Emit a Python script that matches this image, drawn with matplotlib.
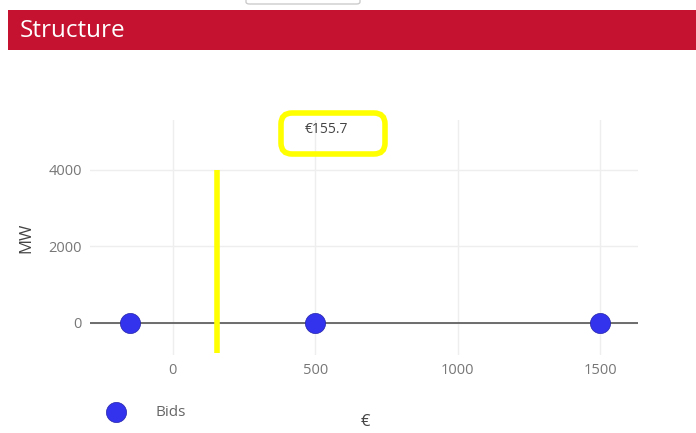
import matplotlib.pyplot as plt
from matplotlib.patches import Rectangle, FancyBboxPatch

plt.rcParams['font.family'] = ['Open Sans', 'DejaVu Sans']

# data
bid_prices = [-150, 500, 1500]
bid_mw = [0, 0, 0]
clearing_price = 155.7
line_range = [-800, 4000]
xticks = [0, 500, 1000, 1500]
yticks = [0, 2000, 4000]

fig = plt.figure(figsize=(6.96, 4.33), dpi=100)
fig.patch.set_facecolor('white')

# header banner
fig.patches.append(Rectangle((8/696, 1 - 50/433), 1, 40/433, transform=fig.transFigure,
                             facecolor='#C41230', edgecolor='none'))
fig.text(20/696, 1 - 31/433, "Structure", color='white', fontsize=17.5, va='center', ha='left')
# little box at very top
fig.patches.append(FancyBboxPatch((246/696, 1 - 4/433), 114/696, 10/433, transform=fig.transFigure,
                                  boxstyle="round,pad=0,rounding_size=0.005",
                                  facecolor='white', edgecolor='#cccccc', lw=1))

ax = fig.add_axes([90/696, 78/433, 548/696, 235/433])
ax.set_xlim(-291, 1632)
ax.set_ylim(-840, 5300)
for s in ax.spines.values():
    s.set_visible(False)
ax.set_xticks(xticks)
ax.set_yticks(yticks)
ax.grid(True, color='#eeeeee', lw=1)
ax.set_axisbelow(True)
ax.tick_params(length=0, colors='#777777', labelsize=10.5, pad=6)
ax.axhline(0, color='#555555', lw=1.2, zorder=1)

ax.vlines(clearing_price, line_range[0], line_range[1], color='#FFFF00', lw=4, zorder=2)
ax.scatter(bid_prices, bid_mw, s=210, color='#3333EE', edgecolor='#2222AA', lw=0.5,
           zorder=3, label='Bids')

# label box for the clearing price (in inches so the corners stay round)
fig.patches.append(FancyBboxPatch((2.81, 4.33 - 1.54), 1.04, 0.41, transform=fig.dpi_scale_trans,
                                  boxstyle="round,pad=0,rounding_size=0.11",
                                  facecolor='none', edgecolor='#FFFF00', lw=4, zorder=4))
ax.text(540, 5060, "€%.1f" % clearing_price, ha='center', va='center', fontsize=10,
        color='#444444', zorder=5)

ax.set_ylabel("MW", color='#444444', fontsize=12, labelpad=10)
fig.text(365/696, 1 - 422/433, "€", color='#444444', fontsize=12, ha='center', va='center')

leg = fig.legend(loc='center left', bbox_to_anchor=(87/696, 1 - 413/433), frameon=False,
                 handletextpad=1.6, fontsize=11, labelcolor='#666666', markerscale=1.0)

fig.savefig("out.png", dpi=100)
